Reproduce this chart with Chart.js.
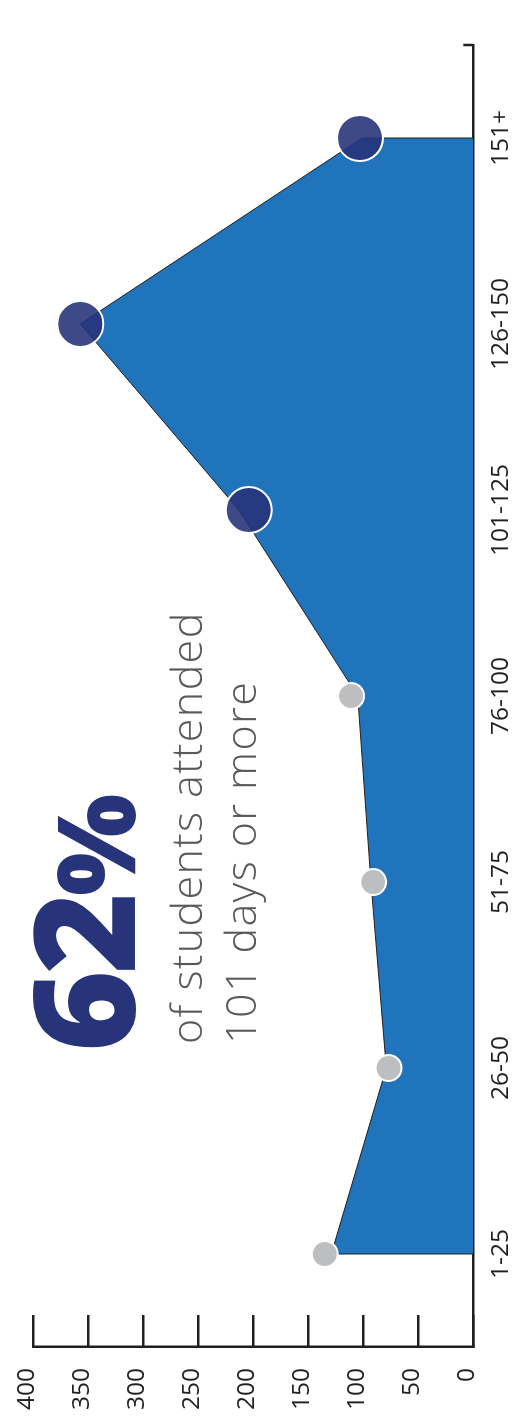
<!DOCTYPE html>
<html>
<head>
<meta charset="utf-8">
<script src="https://cdn.jsdelivr.net/npm/chart.js@4.4.1/dist/chart.umd.min.js"></script>
<style>
  html, body { margin: 0; padding: 0; background: #fff; }
  body { width: 516px; height: 1427px; overflow: hidden; position: relative; }
  /* the chart is laid out landscape and turned a quarter to the left */
  #wrap {
    position: absolute; left: 0; top: 0; width: 1427px; height: 516px;
    transform-origin: 0 0; transform: translateY(1427px) rotate(-90deg);
  }
  #chart { position: absolute; left: 0; top: 0; }
  .big {
    position: absolute; left: 375px; top: 11px; white-space: nowrap;
    font: 800 140px/140px 'Open Sans', sans-serif; color: #283479; letter-spacing: -4px;
  }
  .big span { font-size: 108px; letter-spacing: 0; }
  .sub {
    position: absolute; left: 383px; top: 159px; white-space: nowrap;
    font: 300 43px/54px 'Open Sans', sans-serif; color: #58595b; letter-spacing: 1.4px;
  }
</style>
</head>
<body>
<div id="wrap">
  <canvas id="chart" width="1427" height="516"></canvas>
  <div class="big">62<span>%</span></div>
  <div class="sub">of students attended<br>101 days or more</div>
</div>
<script>
// days attended, students per band
const categories = ['1-25', '26-50', '51-75', '76-100', '101-125', '126-150', '151+'];
const students = [129, 79, 93, 105, 213, 357, 101];
// the round markers sit a little off the line in the original
const markerValues = [135, 77, 91, 111, 204, 357, 103];
const valueTicks = [0, 50, 100, 150, 200, 250, 300, 350, 400];

const ink = '#231f20';

Chart.defaults.font.family = "'Open Sans', sans-serif";
Chart.defaults.font.size = 24.5;
Chart.defaults.color = ink;

// outline the two straight ends of the area and close the category axis
const edgeLines = {
  id: 'edgeLines',
  afterDatasetDraw(chart, args) {
    if (args.index !== 0) return;
    const { ctx, chartArea } = chart;
    const x = chart.scales.x, y = chart.scales.y;
    ctx.save();
    ctx.strokeStyle = ink;
    ctx.lineWidth = 1;
    [0, students.length - 1].forEach(i => {
      const px = x.getPixelForValue(i);
      ctx.beginPath();
      ctx.moveTo(px, y.getPixelForValue(0));
      ctx.lineTo(px, y.getPixelForValue(students[i]));
      ctx.stroke();
    });
    ctx.lineWidth = 2.5;
    ctx.beginPath();
    ctx.moveTo(chartArea.right, chartArea.bottom);
    ctx.lineTo(chartArea.right, chartArea.bottom - 10);
    ctx.stroke();
    ctx.restore();
  }
};

const ctx = document.getElementById('chart').getContext('2d');
const chart = new Chart(ctx, {
  type: 'line',
  data: {
    labels: categories,
    datasets: [{
      data: students,
      order: 1,
      fill: 'origin',
      backgroundColor: '#1f74bb',
      borderColor: ink,
      borderWidth: 1,
      tension: 0,
      pointRadius: 0
    }, {
      data: markerValues,
      order: 0,
      showLine: false,
      pointRadius: c => c.dataIndex >= 4 ? 23 : 13,
      pointBackgroundColor: c => c.dataIndex >= 4 ? 'rgba(38, 50, 120, 0.89)' : '#bcbec0',
      pointBorderColor: '#ffffff',
      pointBorderWidth: 2
    }]
  },
  options: {
    responsive: false,
    animation: false,
    devicePixelRatio: 1,
    layout: { padding: { top: 33, right: 45, left: 0, bottom: 0 } },
    plugins: { legend: { display: false }, tooltip: { enabled: false } },
    scales: {
      x: {
        type: 'category',
        offset: true,
        grid: { display: false, drawTicks: false },
        border: { display: true, color: ink, width: 2.5 },
        ticks: { padding: 13, maxRotation: 0, autoSkip: false },
        afterFit: s => { s.height = 42.7; }
      },
      y: {
        min: 0,
        max: 400,
        afterBuildTicks: s => { s.ticks = valueTicks.map(v => ({ value: v })); },
        grid: { drawOnChartArea: false, drawTicks: true, tickLength: -32, color: ink, lineWidth: 2.5 },
        border: { display: true, color: ink, width: 2.5 },
        ticks: { padding: 53, labelOffset: -6 },
        afterFit: s => {
          s.width = 80;
          // the big tick padding must not push the plot area in
          s.paddingTop = 0;
          s.paddingBottom = 0;
        }
      }
    }
  },
  plugins: [edgeLines]
});
</script>
</body>
</html>
